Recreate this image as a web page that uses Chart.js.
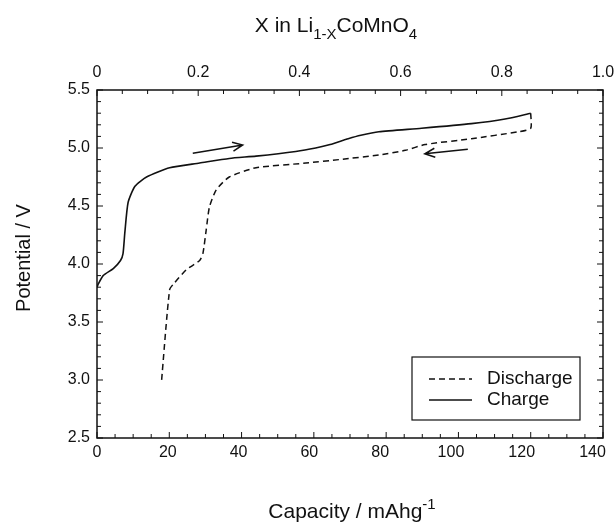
<!DOCTYPE html>
<html>
<head>
<meta charset="utf-8">
<script src="https://cdn.jsdelivr.net/npm/chart.js@4"></script>
<style>
  body { margin: 0; background: #fff; }
  canvas { display: block; }
</style>
</head>
<body>
<canvas id="capacityChart" width="616" height="527"></canvas>
<script>
// charge curve (capacity mAh/g, potential V)
const chargeCap = [0, 0.4, 1.7, 4.5, 6.5, 7.2, 7.7, 8.6, 10.5, 13.7, 20.1, 28.4, 36.6, 44, 55, 60.5, 64.5, 69.5, 73, 78, 89.8, 103.6, 112.9, 120];
const chargeV   = [3.80, 3.83, 3.90, 3.96, 4.03, 4.09, 4.27, 4.53, 4.67, 4.75, 4.83, 4.87, 4.91, 4.93, 4.97, 5.00, 5.03, 5.08, 5.11, 5.14, 5.17, 5.21, 5.25, 5.30];

// discharge curve, starts at end of charge
const dischargeCap = [120, 120, 116.6, 103.6, 90.8, 85.3, 78, 67, 57.8, 44, 36.6, 33, 31.1, 30.2, 29.3, 28.4, 24.7, 21.5, 20.1, 17.8];
const dischargeV   = [5.30, 5.17, 5.14, 5.08, 5.03, 4.98, 4.94, 4.90, 4.87, 4.83, 4.75, 4.64, 4.49, 4.29, 4.09, 4.03, 3.95, 3.84, 3.78, 2.97];

// direction arrows: [fromCap, fromV, toCap, toV]
const chargeArrow = [26.5, 4.955, 40.3, 5.026];
const dischargeArrow = [102.6, 4.99, 90.7, 4.95];

const seriesLabels = ['Discharge', 'Charge'];
const capacityTicks = [0, 20, 40, 60, 80, 100, 120, 140];
const potentialTicks = [2.5, 3.0, 3.5, 4.0, 4.5, 5.0, 5.5];
const xTicks = [0, 0.2, 0.4, 0.6, 0.8, 1.0];

const FONT = '"Liberation Sans", Arial, Helvetica, sans-serif';
const INK = '#111';

function toPoints(xs, ys) {
  return xs.map((x, i) => ({ x: x, y: ys[i] }));
}

function richText(ctx, parts, cx, cy, size) {
  const sm = Math.round(size * 0.72);
  let total = 0;
  parts.forEach(p => {
    ctx.font = (p[1] ? sm : size) + 'px ' + FONT;
    total += ctx.measureText(p[0]).width;
  });
  let x = cx - total / 2;
  ctx.textAlign = 'left';
  ctx.textBaseline = 'alphabetic';
  parts.forEach(p => {
    ctx.font = (p[1] ? sm : size) + 'px ' + FONT;
    let dy = 0;
    if (p[1] === 'sub') dy = size * 0.34;
    if (p[1] === 'sup') dy = -size * 0.45;
    ctx.fillText(p[0], x, cy + dy);
    x += ctx.measureText(p[0]).width;
  });
}

function arrow(ctx, sx, sy, ex, ey) {
  const ang = Math.atan2(ey - sy, ex - sx);
  const head = 11, spread = 0.42;
  ctx.beginPath();
  ctx.moveTo(sx, sy);
  ctx.lineTo(ex, ey);
  ctx.moveTo(ex - head * Math.cos(ang - spread), ey - head * Math.sin(ang - spread));
  ctx.lineTo(ex, ey);
  ctx.lineTo(ex - head * Math.cos(ang + spread), ey - head * Math.sin(ang + spread));
  ctx.stroke();
}

// frame, inward ticks, titles, arrows and legend
const decorations = {
  id: 'decorations',
  afterDraw(chart) {
    const { ctx, chartArea: a, scales } = chart;
    const x = scales.x, x2 = scales.x2, y = scales.y;
    ctx.save();
    ctx.strokeStyle = INK;
    ctx.fillStyle = INK;

    ctx.lineWidth = 1.5;
    ctx.strokeRect(a.left, a.top, a.right - a.left, a.bottom - a.top);

    ctx.lineWidth = 1;
    const tick = (px, py, dx, dy) => {
      ctx.beginPath();
      ctx.moveTo(px, py);
      ctx.lineTo(px + dx, py + dy);
      ctx.stroke();
    };
    for (let i = 0; i <= 28; i++) {
      const p = x.getPixelForValue(i * 5);
      tick(p, a.bottom, 0, i % 4 === 0 ? -6 : -4);
    }
    for (let i = 0; i <= 20; i++) {
      const p = x2.getPixelForValue(i * 0.05);
      tick(p, a.top, 0, i % 4 === 0 ? 6 : 4);
    }
    for (let i = 0; i <= 30; i++) {
      const p = y.getPixelForValue(2.5 + i * 0.1);
      const L = i % 5 === 0 ? 6 : 4;
      tick(a.left, p, L, 0);
      tick(a.right, p, -L, 0);
    }

    // bottom tick labels (printed slightly compressed in the original)
    ctx.font = '16px ' + FONT;
    ctx.textAlign = 'center';
    ctx.textBaseline = 'top';
    capacityTicks.forEach(v => {
      ctx.fillText(String(v), x.getPixelForValue(v) - v * 0.075, a.bottom + 7);
    });

    // arrows
    ctx.lineWidth = 1.5;
    [chargeArrow, dischargeArrow].forEach(ar => {
      arrow(ctx, x.getPixelForValue(ar[0]), y.getPixelForValue(ar[1]),
                 x.getPixelForValue(ar[2]), y.getPixelForValue(ar[3]));
    });

    // legend
    const lw = 168, lh = 63;
    const lx = a.right - 23 - lw, ly = a.bottom - 18 - lh;
    ctx.lineWidth = 1.2;
    ctx.strokeRect(lx, ly, lw, lh);
    chart.data.datasets.forEach((ds, i) => {
      const yy = ly + 22 + i * 21;
      ctx.save();
      ctx.lineWidth = 1.3;
      ctx.setLineDash(ds.borderDash || []);
      ctx.beginPath();
      ctx.moveTo(lx + 17, yy);
      ctx.lineTo(lx + 60, yy);
      ctx.stroke();
      ctx.restore();
      ctx.font = '19px ' + FONT;
      ctx.textAlign = 'left';
      ctx.textBaseline = 'middle';
      ctx.fillText(ds.label, lx + 75, yy);
    });

    // axis titles
    ctx.fillStyle = INK;
    richText(ctx, [['X in Li'], ['1-X', 'sub'], ['CoMnO'], ['4', 'sub']], 336, 32, 21);
    richText(ctx, [['Capacity / mAhg'], ['-1', 'sup']], 352, 518, 21);
    ctx.save();
    ctx.translate(30, 258);
    ctx.rotate(-Math.PI / 2);
    richText(ctx, [['Potential / V']], 0, 0, 20);
    ctx.restore();

    ctx.restore();
  }
};

const tickFont = { family: FONT, size: 16 };

// keep the plot box fixed regardless of end tick label overhang
function noSidePadding(s) {
  s.paddingLeft = 0;
  s.paddingRight = 0;
}

new Chart(document.getElementById('capacityChart').getContext('2d'), {
  type: 'scatter',
  data: {
    datasets: [
      {
        label: seriesLabels[0],
        data: toPoints(dischargeCap, dischargeV),
        showLine: true,
        borderColor: INK,
        borderWidth: 1.5,
        borderDash: [6, 4],
        pointRadius: 0,
        tension: 0.2
      },
      {
        label: seriesLabels[1],
        data: toPoints(chargeCap, chargeV),
        showLine: true,
        borderColor: INK,
        borderWidth: 1.6,
        pointRadius: 0,
        tension: 0.2
      }
    ]
  },
  options: {
    responsive: false,
    animation: false,
    layout: { padding: { left: 0, right: 13, top: 0, bottom: 0 } },
    plugins: {
      legend: { display: false },
      tooltip: { enabled: false }
    },
    scales: {
      x: {
        type: 'linear',
        position: 'bottom',
        min: capacityTicks[0],
        max: capacityTicks[capacityTicks.length - 1],
        grid: { display: false, drawTicks: false },
        border: { display: false },
        ticks: { display: false, stepSize: 20 },
        afterFit(s) { s.height = 89; noSidePadding(s); }
      },
      x2: {
        type: 'linear',
        position: 'top',
        min: xTicks[0],
        max: xTicks[xTicks.length - 1],
        grid: { display: false, drawTicks: false },
        border: { display: false },
        ticks: {
          stepSize: 0.2, padding: 8, color: INK, font: tickFont, maxRotation: 0,
          callback: v => (v === 0 ? '0' : v.toFixed(1))
        },
        afterFit(s) { s.height = 90; noSidePadding(s); }
      },
      y: {
        type: 'linear',
        min: potentialTicks[0],
        max: potentialTicks[potentialTicks.length - 1],
        grid: { display: false, drawTicks: false },
        border: { display: false },
        ticks: { stepSize: 0.5, padding: 7, color: INK, font: tickFont, callback: v => v.toFixed(1) },
        afterFit(s) { s.width = 97; s.paddingTop = 0; s.paddingBottom = 0; }
      }
    }
  },
  plugins: [decorations]
});
</script>
</body>
</html>
